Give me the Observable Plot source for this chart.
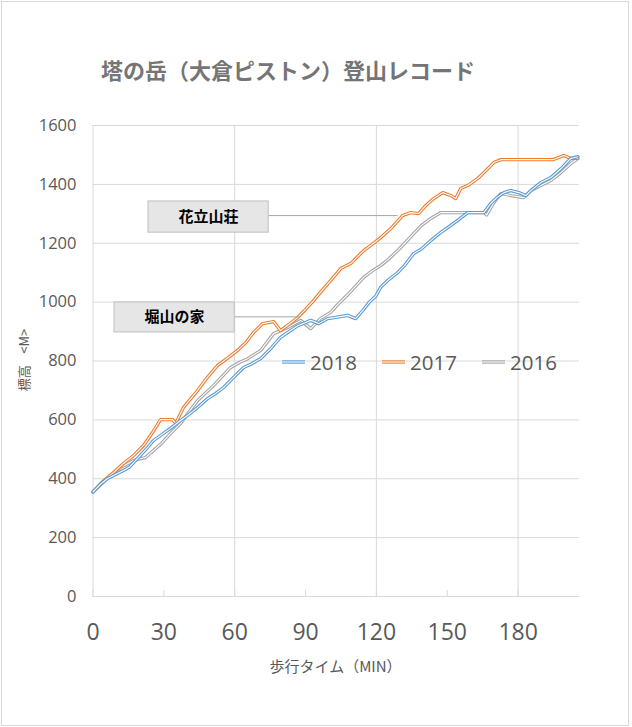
<!DOCTYPE html>
<html><head><meta charset="utf-8">
<script src="https://cdn.jsdelivr.net/npm/d3@7"></script>
<script src="https://cdn.jsdelivr.net/npm/@observablehq/plot@0.6"></script>
<style>
body{margin:0;background:#fff}
#wrap{position:relative;width:632px;height:727px;overflow:hidden;background:#fff}
#title{position:absolute;left:101px;top:56px;font-family:"Noto Sans CJK JP",sans-serif;font-weight:bold;font-size:22px;line-height:26px;color:#757575;white-space:nowrap}
#chart{position:absolute;left:0;top:100px}
#legend{position:absolute;left:282px;top:348px;display:flex;font-family:"Open Sans",sans-serif;font-size:20.5px;color:#595959}
#legend .item{width:100px;display:flex;align-items:center;height:28px}
#legend svg{margin-right:5px}
#xlabel{position:absolute;left:0;width:671px;text-align:center;top:655px;font-family:"Noto Sans CJK JP",sans-serif;font-size:15px;color:#595959}
#ylabel{position:absolute;left:23px;top:360px;transform:translate(-50%,-50%) rotate(-90deg);font-family:"Noto Sans CJK JP",sans-serif;font-size:13px;color:#595959;white-space:pre}
#border{position:absolute;left:1px;top:1px;width:626px;height:723px;border:1px solid #d9d9d9;pointer-events:none}
</style></head><body>
<div id="wrap">
<div id="title">塔の岳（大倉ピストン）登山レコード</div>
<div id="chart"></div>
<div id="legend"></div>
<div id="xlabel">歩行タイム（MIN）</div>
<div id="ylabel"></div>
<div id="border"></div>
</div>
<script>
// ---- data ----
const years = ["2018", "2017", "2016"];
const colors = ["#5b9bd5", "#ed7d31", "#a5a5a5"];

const t2018 = [0, 3, 6, 8.7, 12.9, 15.5, 18.9, 23.1, 25.6, 28.6, 32.8, 37.1, 40, 44, 48.5, 52, 55.3, 59, 63.8, 67, 71, 75, 79.4, 83, 86.7, 92.2, 95.6, 99.4, 104, 107.8, 111.2, 114.6, 117, 119.7, 121.8, 125, 129, 132, 135.8, 139, 143, 147, 150.2, 154, 158.7, 165.5, 168.4, 171, 174, 176.9, 180.3, 183.3, 185.4, 189.6, 193.9, 198.1, 202.3, 205.3];
const v2018 = [355, 380, 400, 411, 428, 440, 469, 506, 530, 547, 571, 598, 615, 640, 672, 690, 710, 740, 778, 790, 808, 840, 880, 900, 920, 938, 927, 944, 950, 955, 944, 975, 1000, 1020, 1050, 1075, 1100, 1125, 1165, 1180, 1209, 1235, 1253, 1275, 1304, 1304, 1335, 1355, 1372, 1379, 1372, 1362, 1379, 1406, 1423, 1453, 1488, 1494];

const t2017 = [0, 4, 8.7, 12.9, 17.2, 21.4, 25.2, 28.6, 33.7, 35, 38.3, 41, 44.3, 48, 52.8, 57, 61.2, 65, 68, 71.8, 76.5, 79.4, 83, 86.7, 90, 93.4, 97, 100.6, 104.9, 109.1, 114.6, 118, 121.8, 126.1, 131.1, 134.5, 137.9, 140.9, 144.3, 148.1, 151.5, 153.6, 155.7, 158.7, 162.9, 165.5, 169.7, 172.7, 194.7, 198.1, 199.4, 202.3, 205.3];
const v2017 = [355, 390, 421, 452, 479, 513, 557, 601, 601, 588, 642, 668, 700, 740, 785, 810, 836, 865, 897, 927, 934, 903, 925, 948, 975, 1005, 1040, 1073, 1114, 1131, 1175, 1195, 1219, 1250, 1294, 1304, 1301, 1328, 1352, 1372, 1362, 1352, 1386, 1396, 1420, 1440, 1474, 1484, 1484, 1494, 1498, 1488, 1488];

const t2016 = [0, 4, 7.4, 12, 17.2, 22.2, 25.6, 29, 32.8, 37.1, 40, 44.3, 47.5, 51.1, 55, 58.3, 62, 65.5, 71, 76.5, 82.4, 87.9, 92.2, 96.4, 100.6, 104, 107.8, 114.6, 118, 121.8, 125, 129, 132, 135.8, 139, 143, 147.2, 165.5, 166.7, 169.7, 172.7, 176.9, 182.4, 185.4, 189.6, 193.9, 198.1, 202.3, 205.3];
const v2016 = [355, 385, 411, 440, 462, 472, 496, 520, 553, 588, 620, 666, 690, 717, 750, 778, 795, 808, 836, 893, 914, 938, 910, 945, 965, 995, 1025, 1084, 1105, 1124, 1145, 1175, 1200, 1233, 1260, 1284, 1304, 1304, 1296, 1338, 1369, 1362, 1355, 1379, 1396, 1413, 1440, 1470, 1488];

const xTicks = [0, 30, 60, 90, 120, 150, 180];
const xGrid = [60, 120, 180];
const yTicks = [0, 200, 400, 600, 800, 1000, 1200, 1400, 1600];

const noteLabels = ["花立山荘", "堀山の家"];
const noteT1 = [23.5, 9.1];
const noteT2 = [74.4, 60];
const noteV1 = [1236, 897];
const noteV2 = [1342, 999];
const noteAnchorT = [129, 88];
const noteAnchorV = [1294, 950];

// ---- build ----
const seriesT = [t2018, t2017, t2016];
const seriesV = [v2018, v2017, v2016];
const rows = years.map((y, i) => seriesT[i].map((t, j) => ({year: y, t, v: seriesV[i][j]})));
const notes = noteLabels.map((label, i) => ({label, t1: noteT1[i], t2: noteT2[i], v1: noteV1[i], v2: noteV2[i], at: noteAnchorT[i], av: noteAnchorV[i]}));

const lineMarks = [];
[2, 1, 0].forEach(i => {
  lineMarks.push(Plot.line(rows[i], {x: "t", y: "v", stroke: colors[i], strokeWidth: 3.3}));
  lineMarks.push(Plot.line(rows[i], {x: "t", y: "v", stroke: "white", strokeWidth: 1.1}));
});

const chart = Plot.plot({
  width: 632,
  height: 627,
  marginLeft: 92.5,
  marginRight: 53,
  marginTop: 25,
  marginBottom: 131,
  style: {fontFamily: "'Open Sans', sans-serif", background: "transparent"},
  x: {domain: [0, 206]},
  y: {domain: [0, 1600]},
  marks: [
    Plot.gridY(yTicks, {stroke: "#d9d9d9", strokeOpacity: 1}),
    Plot.gridX(xGrid, {stroke: "#d9d9d9", strokeOpacity: 1}),
    Plot.ruleX([0], {stroke: "#d9d9d9"}),
    Plot.ruleY([0], {stroke: "#d9d9d9"}),
    Plot.axisX({ticks: xTicks, tickSize: 0, tickPadding: 27, fontSize: 23, fill: "#595959", tickFormat: d => String(d), label: null}),
    Plot.axisX({ticks: xTicks, tickSize: 6, dy: -6, tickFormat: () => "", stroke: "#d9d9d9", label: null}),
    Plot.axisY({ticks: yTicks, tickSize: 0, tickPadding: 16.5, fontSize: 16.5, fill: "#595959", tickFormat: d => String(d), label: null}),
    ...lineMarks,
    Plot.link(notes, {x1: "t2", y1: "av", x2: "at", y2: "av", stroke: "#a6a6a6", strokeWidth: 1}),
    Plot.rect(notes, {x1: "t1", x2: "t2", y1: "v1", y2: "v2", fill: "#e6e6e6", stroke: "#bfbfbf"}),
    Plot.text(notes, {x: d => (d.t1 + d.t2) / 2, y: d => (d.v1 + d.v2) / 2, text: "label", fontSize: 15, fontWeight: "bold", fill: "#000", fontFamily: "'Noto Sans CJK JP', sans-serif"})
  ]
});
document.getElementById("chart").appendChild(chart);

// legend
const legend = document.getElementById("legend");
years.forEach((y, i) => {
  const item = document.createElement("div");
  item.className = "item";
  item.innerHTML = `<svg width="23" height="8"><line x1="0" x2="23" y1="4" y2="4" stroke="${colors[i]}" stroke-width="3.3"/><line x1="0" x2="23" y1="4" y2="4" stroke="white" stroke-width="1.1"/></svg>`;
  const span = document.createElement("span");
  span.textContent = y;
  item.appendChild(span);
  legend.appendChild(item);
});

document.getElementById("ylabel").textContent = "標高    <M>";
</script>
</body></html>
